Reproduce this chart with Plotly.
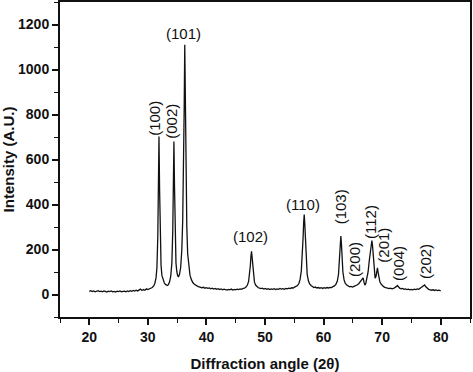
import plotly.graph_objects as go

two_theta = [
    20.0, 20.25, 20.5, 20.75, 21.0, 21.25, 21.5, 21.75, 22.0, 22.25, 22.5, 22.75,
    23.0, 23.25, 23.5, 23.75, 24.0, 24.25, 24.5, 24.75, 25.0, 25.25, 25.5, 25.75,
    26.0, 26.25, 26.5, 26.75, 27.0, 27.25, 27.5, 27.75, 28.0, 28.25, 28.5, 28.75,
    29.0, 29.25, 29.5, 29.75, 30.0,
    30.25, 30.5, 30.75, 31.0, 31.2, 31.4, 31.55, 31.7, 31.8, 31.9, 32.0, 32.1,
    32.25, 32.4, 32.6, 32.8, 33.0, 33.2, 33.35, 33.5, 33.7, 33.9, 34.1, 34.25,
    34.35, 34.45, 34.55, 34.65, 34.8, 34.95, 35.1, 35.25, 35.4, 35.6, 35.8, 35.95,
    36.1, 36.2, 36.3, 36.4, 36.5, 36.65, 36.8, 37.0, 37.2, 37.45, 37.7, 38.0,
    38.3, 38.6,
    38.9, 39.2, 39.5, 39.75, 40.0, 40.25, 40.5, 40.75, 41.0, 41.25, 41.5, 41.75,
    42.0, 42.25, 42.5, 42.75, 43.0, 43.25, 43.5, 43.75, 44.0, 44.25, 44.5, 44.75,
    45.0, 45.25, 45.5, 45.75, 46.0, 46.25, 46.5,
    46.75, 47.0, 47.2, 47.35, 47.5, 47.6, 47.7, 47.8, 47.9, 48.05, 48.2, 48.4,
    48.6, 48.85, 49.1,
    49.3, 49.55, 49.8, 50.05, 50.3, 50.55, 50.8, 51.05, 51.3, 51.55, 51.8, 52.05,
    52.3, 52.55, 52.8, 53.05, 53.3, 53.55, 53.8, 54.05, 54.3, 54.55, 54.8, 55.05,
    55.3,
    55.55, 55.8, 56.0, 56.2, 56.35, 56.5, 56.6, 56.7, 56.8, 56.9, 57.05, 57.2,
    57.4, 57.6, 57.85, 58.1,
    58.35, 58.6, 58.85, 59.1, 59.35, 59.6, 59.85, 60.1, 60.35, 60.6, 60.85, 61.1,
    61.35, 61.6,
    61.85, 62.1, 62.35, 62.55, 62.7, 62.85, 62.95, 63.05, 63.15, 63.3, 63.5, 63.7,
    63.95, 64.2,
    64.45, 64.7, 64.95, 65.2, 65.45, 65.7, 66.0, 66.3, 66.55, 66.75, 66.9, 67.05,
    67.2, 67.4, 67.6, 67.8, 68.0, 68.15, 68.25, 68.35, 68.5, 68.65, 68.8, 68.95,
    69.1, 69.2, 69.3, 69.45, 69.6, 69.8, 70.0, 70.2, 70.45,
    70.7, 70.95, 71.2, 71.45, 71.7, 71.95, 72.2, 72.4, 72.6, 72.8, 73.0, 73.25,
    73.5, 73.75, 74.0, 74.25, 74.5, 74.75, 75.0, 75.25, 75.5, 75.75, 76.0, 76.25,
    76.5, 76.75, 77.0, 77.25, 77.45, 77.7, 77.95, 78.2, 78.45, 78.7, 78.95, 79.2,
    79.45, 79.7, 80.0,
]

intensity = [
    14, 17, 13, 16, 12, 15, 17, 13, 15, 12, 16, 14,
    11, 15, 13, 16, 12, 14, 11, 15, 13, 16, 12, 14,
    15, 12, 16, 13, 17, 14, 18, 15, 19, 16, 20, 24,
    18, 22, 19, 25, 22,
    24, 27, 31, 38, 50, 75, 120, 260, 480, 702, 470, 250,
    130, 85, 62, 52, 45, 41, 40, 44, 55, 80, 140, 280,
    480, 680, 480, 260, 140, 100, 82, 80, 90, 120, 200, 330,
    560, 820, 1110, 800, 520, 300, 180, 115, 85, 65, 52, 44,
    38, 35,
    33, 30, 32, 28, 30, 27, 29, 25, 28, 24, 27, 23,
    26, 22, 25, 21, 24, 22, 20, 23, 21, 24, 20, 23,
    21, 24, 22, 25, 23, 27, 28,
    33, 42, 58, 85, 130, 170, 192, 165, 125, 80, 55, 42,
    35, 30, 28,
    26, 28, 24, 27, 23, 26, 22, 25, 23, 26, 22, 25,
    23, 27, 24, 26, 23, 27, 25, 28, 26, 30, 29, 33,
    35,
    40, 50, 68, 105, 160, 250, 320, 355, 310, 230, 140, 90,
    62, 48, 40, 35,
    31, 33, 29, 31, 28, 30, 27, 30, 28, 31, 29, 32,
    31, 35,
    38, 45, 60, 90, 140, 215, 260, 225, 160, 100, 65, 50,
    42, 37,
    34, 36, 33, 36, 38, 42, 48, 58, 68, 74, 55, 42,
    48, 68, 100, 150, 200, 232, 240, 220, 160, 110, 72, 80,
    105, 118, 100, 75, 58, 47, 40, 36, 32,
    30, 28, 26, 28, 25, 27, 30, 35, 40, 33, 28, 25,
    27, 23, 25, 22, 24, 21, 23, 21, 24, 22, 25, 23,
    28, 34, 40, 42, 34, 27, 23, 21, 19, 21, 18, 20,
    17, 19, 16,
]

peak_labels = ["(100)", "(002)", "(101)", "(102)", "(110)", "(103)",
               "(200)", "(112)", "(201)", "(004)", "(202)"]
label_x = [31.0, 34.0, 36.1, 47.55, 56.5, 62.95, 65.4, 68.0, 70.3, 72.7, 77.4]
label_y = [784, 769, 1162, 256, 400, 391, 154, 324, 221, 140, 147]
label_angle = [-90, -90, 0, 0, 0, -90, -90, -90, -90, -90, -90]

FONT = "Arial, Liberation Sans, sans-serif"

fig = go.Figure()
fig.add_trace(go.Scatter(
    x=two_theta, y=intensity, mode="lines",
    line=dict(color="#111111", width=1.3),
    showlegend=False, hoverinfo="skip",
))

for t, lx, ly, ang in zip(peak_labels, label_x, label_y, label_angle):
    fig.add_annotation(x=lx, y=ly, text=t, showarrow=False, textangle=ang,
                       font=dict(family=FONT, size=15, color="#111111"),
                       xanchor="center", yanchor="middle")

axis_common = dict(
    showline=True, linecolor="#111111", linewidth=2, mirror=True,
    showgrid=False, zeroline=False,
    ticks="outside", ticklen=6, tickwidth=1.5, tickcolor="#111111",
    tickfont=dict(family=FONT, size=14, color="#111111", weight="bold"),
)

fig.update_xaxes(
    range=[15, 85], dtick=10, tick0=0,
    minor=dict(dtick=5, ticks="outside", ticklen=4, tickwidth=1.2, tickcolor="#111111"),
    title=dict(text="Diffraction angle (2θ)", standoff=15,
               font=dict(family=FONT, size=15, color="#111111", weight="bold")),
    **axis_common,
)
fig.update_yaxes(
    range=[-100, 1300], dtick=200, tick0=0,
    minor=dict(dtick=100, ticks="outside", ticklen=4, tickwidth=1.2, tickcolor="#111111"),
    title=dict(text="Intensity (A.U.)", standoff=5,
               font=dict(family=FONT, size=15, color="#111111", weight="bold")),
    **axis_common,
)

fig.update_layout(
    width=473, height=372,
    margin=dict(l=60, r=3, t=2, b=55, autoexpand=False),
    paper_bgcolor="white", plot_bgcolor="white",
)

fig.write_html(
    "out.html",
    config={"displayModeBar": False},
    post_script="document.body.style.margin='0';document.body.style.overflow='hidden';",
)
